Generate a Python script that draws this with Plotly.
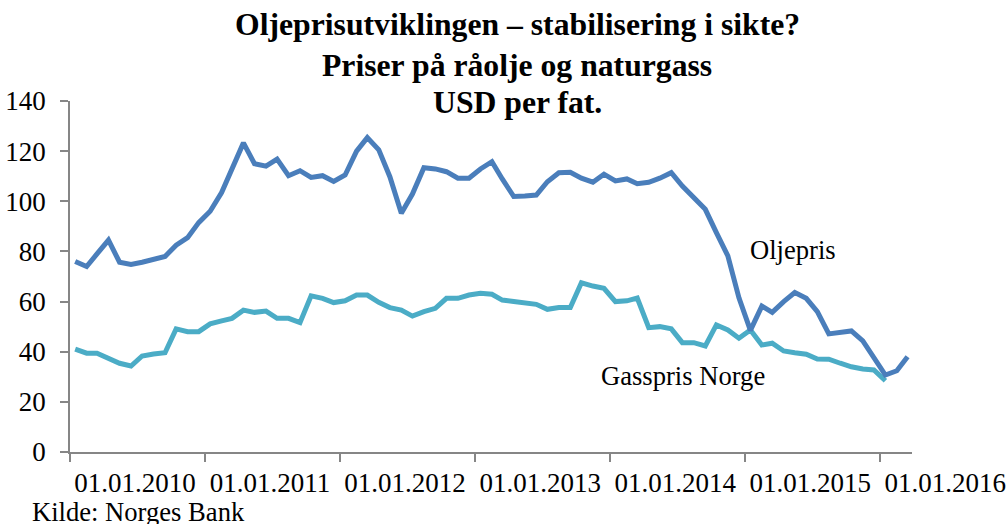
import pandas as pd
import plotly.graph_objects as go

# ---- data ----
oil_values = [
    76.0, 74.0, 79.0, 84.5, 75.7, 74.8, 75.7, 77.0, 78.0, 82.5, 85.5, 91.5,
    96.0, 103.5, 113.5, 123.3, 115.0, 114.0, 116.8, 110.2, 112.2, 109.5, 110.2, 107.9,
    110.5, 120.0, 125.4, 120.5, 109.8, 95.2, 102.9, 113.4, 112.9, 111.8, 109.2, 109.2,
    112.9, 115.8, 108.9, 101.9, 102.1, 102.5, 107.8, 111.4, 111.6, 109.2, 107.6, 110.8,
    108.1, 108.9, 107.0, 107.6, 109.2, 111.4, 106.1, 101.6, 96.8, 87.5, 78.2, 61.5,
    48.5, 58.2, 55.7, 60.0, 63.6, 61.3, 56.0, 47.1, 47.6, 48.3, 44.3, 38.0,
    30.7, 32.4, 38.0,
]
gas_values = [
    41.0, 39.4, 39.4, 37.6, 35.4, 34.3, 38.3, 39.1, 39.6, 49.1, 48.0, 48.0,
    51.1, 52.3, 53.3, 56.6, 55.7, 56.2, 53.3, 53.3, 51.6, 62.3, 61.3, 59.6,
    60.3, 62.6, 62.6, 59.7, 57.6, 56.6, 54.2, 56.0, 57.3, 61.3, 61.3, 62.6,
    63.3, 62.9, 60.6, 60.0, 59.6, 58.9, 56.9, 57.6, 57.6, 67.5, 66.2, 65.3,
    60.0, 60.3, 61.4, 49.6, 50.0, 49.1, 43.6, 43.6, 42.3, 50.7, 48.7, 45.4,
    48.7, 42.7, 43.4, 40.3, 39.6, 39.0, 37.1, 37.0, 35.4, 34.0, 33.1, 32.7,
    28.4,
]
tick_dates = ["2010-01-01", "2011-01-01", "2012-01-01", "2013-01-01",
              "2014-01-01", "2015-01-01", "2016-01-01"]
tick_labels = ["01.01.2010", "01.01.2011", "01.01.2012", "01.01.2013",
               "01.01.2014", "01.01.2015", "01.01.2016"]
y_ticks = [0, 20, 40, 60, 80, 100, 120, 140]

title_lines = ["Oljeprisutviklingen – stabilisering i sikte?",
               "Priser på råolje og naturgass",
               "USD per fat."]
oil_name = "Oljepris"
gas_name = "Gasspris Norge"
source_text = "Kilde: Norges Bank"

months_oil = pd.date_range("2010-01-01", periods=len(oil_values), freq="MS") + pd.Timedelta(days=14)
months_gas = pd.date_range("2010-01-01", periods=len(gas_values), freq="MS") + pd.Timedelta(days=14)

FONT = "Liberation Serif, Times New Roman, serif"
AXIS_COLOR = "#868686"

fig = go.Figure()
fig.add_trace(go.Scatter(x=months_gas, y=gas_values, mode="lines", name=gas_name,
                         line=dict(color="#4BACC6", width=5)))
fig.add_trace(go.Scatter(x=months_oil, y=oil_values, mode="lines", name=oil_name,
                         line=dict(color="#4A7EBB", width=5)))

fig.update_layout(
    width=1008, height=524,
    margin=dict(l=70, r=96, t=101, b=72, autoexpand=False),
    paper_bgcolor="white", plot_bgcolor="white",
    showlegend=False,
    font=dict(family=FONT, size=27, color="black"),
)
fig.update_xaxes(
    type="date", range=["2010-01-01", "2016-03-27"], automargin=False,
    tickvals=tick_dates, ticktext=tick_labels,
    ticks="outside", ticklen=8, tickwidth=1.5, tickcolor=AXIS_COLOR,
    ticklabelshift=65, ticklabelstandoff=-2, ticklabeloverflow="allow",
    showline=True, linecolor=AXIS_COLOR, linewidth=1.5,
    showgrid=False, zeroline=False,
    tickfont=dict(family=FONT, size=27, color="black"),
)
fig.update_yaxes(
    range=[0, 140], tickvals=y_ticks, automargin=False,
    ticks="outside", ticklen=8, tickwidth=1.5, tickcolor=AXIS_COLOR,
    ticklabelstandoff=9,
    showline=True, linecolor=AXIS_COLOR, linewidth=1.5,
    showgrid=False, zeroline=False,
    tickfont=dict(family=FONT, size=27, color="black"),
)

# title lines (three separate annotations for Excel-like line spacing)
title_y = [1.2179, 1.1011, 0.9957]
for txt, ty in zip(title_lines, title_y):
    fig.add_annotation(text=f"<b>{txt}</b>", xref="paper", yref="paper",
                       x=0.5309, y=ty, xanchor="center", yanchor="middle",
                       showarrow=False,
                       font=dict(family=FONT, size=31.7, color="black"))

fig.add_annotation(text=oil_name, xref="paper", yref="paper", x=0.8587, y=0.5755,
                   xanchor="center", yanchor="middle", showarrow=False,
                   font=dict(family=FONT, size=26.6, color="black"))
fig.add_annotation(text=gas_name, xref="paper", yref="paper", x=0.728, y=0.2165,
                   xanchor="center", yanchor="middle", showarrow=False,
                   font=dict(family=FONT, size=26.6, color="black"))
fig.add_annotation(text=source_text, xref="paper", yref="paper", x=(30 - 70) / 842, y=-0.171,
                   xanchor="left", yanchor="middle", showarrow=False,
                   font=dict(family=FONT, size=26.6, color="black"))

fig.write_html("out.html", config={"displayModeBar": False},
               post_script="document.body.style.margin='0';")
